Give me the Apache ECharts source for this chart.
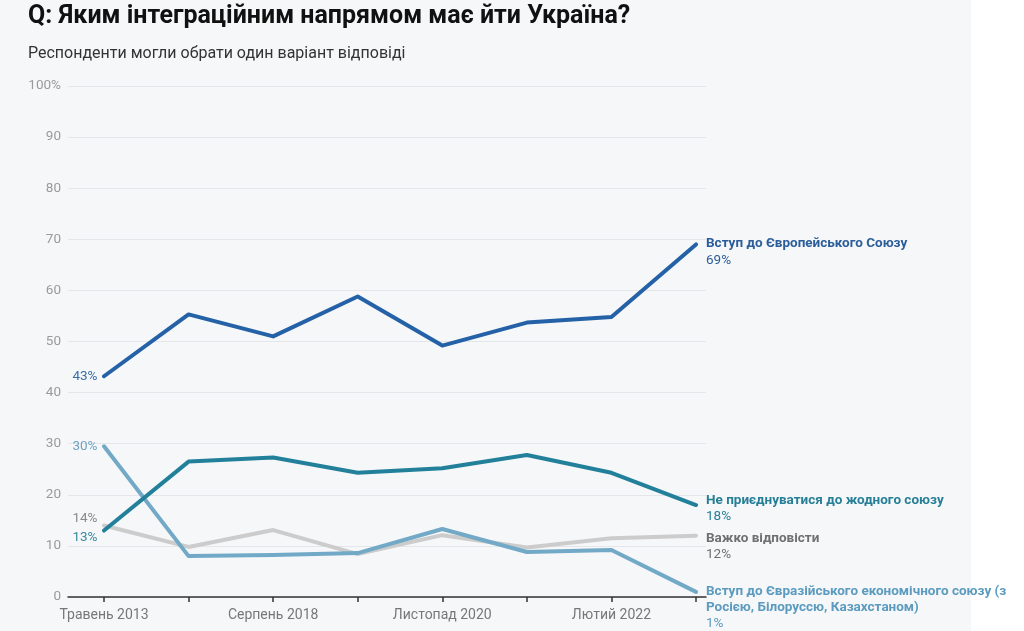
<!DOCTYPE html>
<html>
<head>
<meta charset="utf-8">
<script src="https://cdn.jsdelivr.net/npm/echarts@6/dist/echarts.min.js"></script>
<style>
html,body{margin:0;padding:0;background:#ffffff;}
#c{width:1024px;height:631px;}
</style>
</head>
<body>
<div id="c"></div>
<script>
const categories = ["Травень 2013", "Грудень 2017", "Серпень 2018", "Листопад 2019", "Листопад 2020", "Листопад 2021", "Лютий 2022", "Травень 2022"];
const yTicks = [0, 10, 20, 30, 40, 50, 60, 70, 80, 90, 100];
const euValues = [43.2, 55.3, 51, 58.8, 49.2, 53.7, 54.8, 69];
const noneValues = [13, 26.5, 27.3, 24.3, 25.2, 27.8, 24.3, 18];
const hardValues = [14, 9.8, 13.1, 8.4, 12.1, 9.7, 11.5, 12];
const eurasianValues = [29.5, 8, 8.2, 8.6, 13.3, 8.8, 9.2, 1];
const seriesNames = ["Вступ до Європейського Союзу", "Не приєднуватися до жодного союзу", "Важко відповісти", "Вступ до Євразійського економічного союзу (з\nРосією, Білоруссю, Казахстаном)"];
const lastLabels = ["69%", "18%", "12%", "1%"];
const firstLabels = ["43%", "13%", "14%", "30%"];

const FONT = 'Roboto';
const chart = echarts.init(document.getElementById('c'), null, {renderer: 'canvas'});

function buildData(values, firstText, color, vAlign) {
  return values.map((v, i) => {
    if (i === 0) {
      return {
        value: v,
        label: {
          show: true, position: 'left', distance: 6,
          formatter: firstText, color: color, fontSize: 13.5, fontFamily: FONT,
          verticalAlign: vAlign
        }
      };
    }
    return v;
  });
}

function makeSeries(idx, values, lineColor, labelColor, startColor, vAlign, endOffset, z) {
  return {
    type: 'line',
    name: seriesNames[idx],
    xAxisIndex: 1, yAxisIndex: 1,
    data: buildData(values, firstLabels[idx], startColor, vAlign),
    showSymbol: true,
    showAllSymbol: true,
    symbol: 'circle',
    symbolSize: 1,
    z: z,
    lineStyle: {color: lineColor, width: 4, cap: 'round', join: 'round'},
    itemStyle: {color: lineColor, borderWidth: 0},
    label: {show: false},
    labelLayout: {hideOverlap: false},
    emphasis: {disabled: true},
    endLabel: {
      show: true,
      distance: 10,
      offset: endOffset,
      formatter: function () {
        const parts = seriesNames[idx].split('\n').map(s => '{n|' + s + '}');
        return parts.join('\n') + '\n{v|' + lastLabels[idx] + '}';
      },
      rich: {
        n: {fontSize: 13.5, fontWeight: 'bold', color: labelColor, fontFamily: FONT, lineHeight: 16},
        v: {fontSize: 13.5, color: labelColor, fontFamily: FONT, lineHeight: 17}
      }
    }
  };
}

const option = {
  backgroundColor: 'transparent',
  animation: false,
  graphic: [
    {type: 'rect', z: -10, silent: true, shape: {x: 0, y: 0, width: 971, height: 631}, style: {fill: '#f6f7f9'}},
    {type: 'text', left: 28, top: 4, style: {text: 'Q: Яким інтеграційним напрямом має йти Україна?', font: 'bold 25px Roboto', fill: '#111111'}},
    {type: 'text', left: 28, top: 46, style: {text: 'Респонденти могли обрати один варіант відповіді', font: '16px Roboto', fill: '#333333'}}
  ],
  grid: [
    {left: 68, right: 318, top: 86, bottom: 34},
    {left: 104, right: 328, top: 86, bottom: 34}
  ],
  xAxis: [
    {
      gridIndex: 0, type: 'value', min: 0, max: 1,
      axisLine: {show: true, lineStyle: {color: '#333333', width: 1.5}},
      axisTick: {show: false}, axisLabel: {show: false}, splitLine: {show: false}
    },
    {
      gridIndex: 1, type: 'category', data: categories, boundaryGap: false,
      axisLine: {show: false},
      axisTick: {show: true, interval: 0, length: 5, lineStyle: {color: '#333333', width: 1.5}},
      axisLabel: {interval: 1, color: '#777777', fontSize: 14, fontFamily: FONT, margin: 11},
      splitLine: {show: false}
    }
  ],
  yAxis: [
    {
      gridIndex: 0, type: 'value', min: 0, max: 100, interval: 10,
      axisLine: {show: false}, axisTick: {show: false},
      axisLabel: {
        color: '#9a9a9a', fontSize: 13.5, fontFamily: FONT, margin: 7,
        formatter: function (v) { return v === yTicks[yTicks.length - 1] ? v + '%' : String(v); }
      },
      splitLine: {show: true, lineStyle: {color: '#e4e6e9', width: 1}}
    },
    {
      gridIndex: 1, type: 'value', min: 0, max: 100, interval: 10, show: false,
      splitLine: {show: false}
    }
  ],
  series: [
    makeSeries(2, hardValues, '#cccccc', '#707070', '#8a8a8a', 'bottom', [0, 11], 2),
    makeSeries(3, eurasianValues, '#72a9c7', '#5b9bbf', '#6fa3c0', 'middle', [0, 16], 3),
    makeSeries(1, noneValues, '#22809a', '#267f97', '#3a8aa0', 'top', [0, 4], 4),
    makeSeries(0, euValues, '#2461a6', '#2b5d9b', '#3a6ea8', 'middle', [0, 8], 5)
  ]
};
chart.setOption(option);
</script>
</body>
</html>
